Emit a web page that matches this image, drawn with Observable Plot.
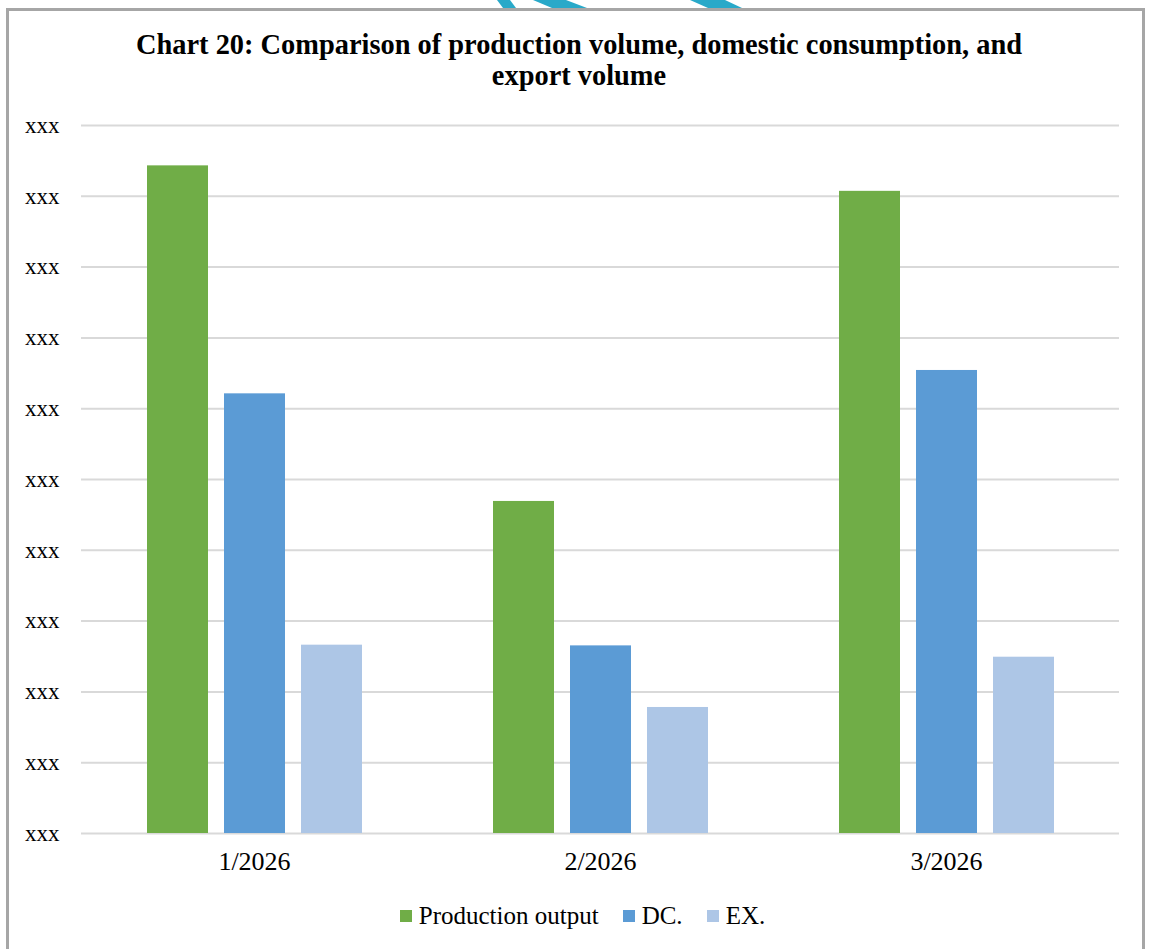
<!DOCTYPE html>
<html>
<head>
<meta charset="utf-8">
<script src="https://cdn.jsdelivr.net/npm/d3@7"></script>
<script src="https://cdn.jsdelivr.net/npm/@observablehq/plot@0.6"></script>
<style>
  html, body { margin: 0; padding: 0; background: #fff; }
  #page { position: relative; width: 1149px; height: 949px; overflow: hidden; background: #fff; }
  #frame { position: absolute; left: 6px; top: 8px; width: 1139px; height: 1000px; border: 3px solid #a6a6a6; box-sizing: border-box; }
  #deco { position: absolute; left: 0; top: 0; }
  #title { position: absolute; left: 0; top: 29px; width: 1158px; text-align: center; font-family: "Liberation Serif", serif; font-weight: bold; font-size: 28.4px; line-height: 31px; color: #000; }
  #chart { position: absolute; left: 0; top: 110px; }
  #legend { position: absolute; left: 0; top: 902px; width: 1165px; display: flex; justify-content: center; align-items: center; font-family: "Liberation Serif", serif; font-size: 25px; color: #000; }
  .item { display: flex; align-items: center; margin: 0 12px; }
  .swatch { width: 12px; height: 12px; margin-right: 7px; }
</style>
</head>
<body>
<div id="page">
  <div id="frame"></div>
  <svg id="deco" width="1149" height="12">
    <polygon points="497,0 510,0 516,8 503,8" fill="#29a9c9"></polygon>
    <polygon points="533,0 566,0 587,8 552,8" fill="#29a9c9"></polygon>
    <polygon points="690,0 725,0 742,8 708,8" fill="#29a9c9"></polygon>
  </svg>
  <div id="title">Chart 20: Comparison of production volume, domestic consumption, and<br>export volume</div>
  <div id="chart"></div>
  <div id="legend"></div>
</div>
<script>
const months = ["1/2026", "2/2026", "3/2026"];
const seriesNames = ["Production output", "DC.", "EX."];
const productionOutput = [9.43, 4.69, 9.07];
const domesticConsumption = [6.21, 2.65, 6.54];
const exportVolume = [2.66, 1.78, 2.49];
const yTicks = [0, 1, 2, 3, 4, 5, 6, 7, 8, 9, 10];
const yTickLabels = ["xxx", "xxx", "xxx", "xxx", "xxx", "xxx", "xxx", "xxx", "xxx", "xxx", "xxx"];
const colors = ["#70ad47", "#5b9bd5", "#adc6e6"];

const seriesValues = [productionOutput, domesticConsumption, exportVolume];
const rows = [];
months.forEach((m, i) => {
  seriesNames.forEach((s, j) => {
    rows.push({month: m, series: s, value: seriesValues[j][i]});
  });
});

const chart = Plot.plot({
  width: 1149,
  height: 773,
  marginLeft: 81,
  marginRight: 30,
  marginTop: 15,
  marginBottom: 50,
  style: {fontFamily: "Liberation Serif, serif", fontSize: "26px", color: "#000", background: "transparent"},
  fx: {domain: months, paddingInner: 0, paddingOuter: 0, label: null, tickSize: 0, tickPadding: 18, axis: "bottom"},
  x: {domain: seriesNames, axis: null, paddingInner: 0.208, paddingOuter: 0.85},
  y: {domain: [0, 10], ticks: yTicks, tickFormat: (d) => yTickLabels[yTicks.indexOf(d)], tickSize: 0, tickPadding: 22, label: null},
  color: {domain: seriesNames, range: colors},
  marks: [
    Plot.ruleY(yTicks, {stroke: "#d9d9d9", strokeWidth: 2}),
    Plot.barY(rows, {fx: "month", x: "series", y: "value", fill: "series"})
  ]
});
document.getElementById("chart").appendChild(chart);

// smaller font for y tick labels
d3.select(chart).selectAll("g").filter(function () {
  const a = this.getAttribute("aria-label") || "";
  return a.startsWith("y-axis");
}).style("font-size", "23px").selectAll("text").style("font-size", "23px");

const legend = document.getElementById("legend");
seriesNames.forEach((s, j) => {
  const item = document.createElement("div");
  item.className = "item";
  const sw = document.createElement("div");
  sw.className = "swatch";
  sw.style.background = colors[j];
  const label = document.createElement("span");
  label.textContent = s;
  item.appendChild(sw);
  item.appendChild(label);
  legend.appendChild(item);
});
</script>
</body>
</html>
